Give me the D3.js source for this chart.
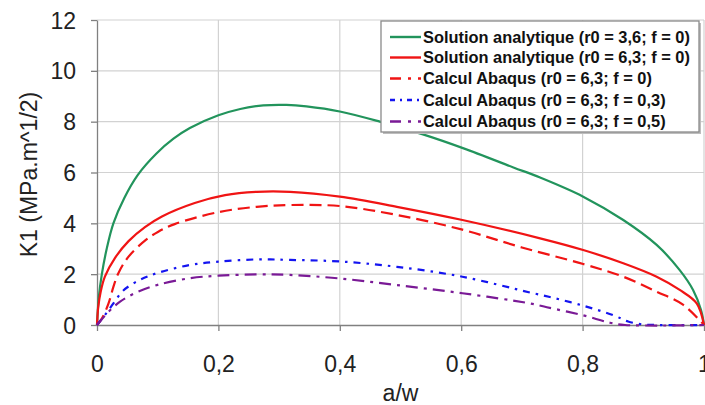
<!DOCTYPE html>
<html>
<head>
<meta charset="utf-8">
<script src="https://cdn.jsdelivr.net/npm/d3@7"></script>
<style>
  body { margin: 0; background: #fff; }
  svg { display: block; font-family: Arial, "Liberation Sans", sans-serif; }
</style>
</head>
<body>
<svg id="chart" width="705" height="405"></svg>
<script>
// ---- Data ----
const seriesNames = [
  "Solution analytique (r0 = 3,6; f = 0)",
  "Solution analytique (r0 = 6,3; f = 0)",
  "Calcul Abaqus (r0 = 6,3; f = 0)",
  "Calcul Abaqus (r0 = 6,3; f = 0,3)",
  "Calcul Abaqus (r0 = 6,3; f = 0,5)"
];
const greenX = [0, 0.003, 0.008, 0.016, 0.027, 0.045, 0.067, 0.098, 0.126, 0.153, 0.2, 0.236, 0.274, 0.312, 0.345, 0.4, 0.466, 0.537, 0.604, 0.686, 0.73, 0.801, 0.867, 0.922, 0.96, 0.982, 0.995, 1.0];
const greenY = [0, 1.1, 2.0, 3.0, 4.0, 5.0, 5.9, 6.75, 7.33, 7.75, 8.25, 8.5, 8.64, 8.66, 8.6, 8.4, 8.0, 7.5, 6.95, 6.2, 5.8, 5.05, 4.13, 3.15, 2.16, 1.38, 0.6, 0];
const redX = [0, 0.002, 0.006, 0.013, 0.03, 0.052, 0.079, 0.107, 0.161, 0.211, 0.263, 0.318, 0.4, 0.494, 0.602, 0.73, 0.801, 0.867, 0.922, 0.96, 0.988, 1.0];
const redY = [0, 0.7, 1.3, 1.9, 2.65, 3.3, 3.85, 4.27, 4.8, 5.11, 5.24, 5.24, 5.05, 4.65, 4.13, 3.41, 2.95, 2.43, 1.9, 1.38, 0.85, 0];
const abq0X = [0, 0.008, 0.019, 0.027, 0.035, 0.052, 0.08, 0.101, 0.128, 0.2, 0.263, 0.318, 0.4, 0.494, 0.602, 0.7, 0.801, 0.867, 0.922, 0.966, 1.0];
const abq0Y = [0, 0.25, 0.85, 1.5, 2.03, 2.69, 3.34, 3.67, 3.97, 4.44, 4.65, 4.72, 4.68, 4.33, 3.75, 3.05, 2.4, 1.9, 1.31, 0.79, 0];
const abq3X = [0, 0.013, 0.027, 0.043, 0.071, 0.1, 0.153, 0.2, 0.263, 0.318, 0.4, 0.494, 0.602, 0.713, 0.746, 0.801, 0.851, 0.875, 0.9, 0.92, 1.0];
const abq3Y = [0, 0.39, 0.85, 1.35, 1.78, 2.05, 2.36, 2.49, 2.58, 2.56, 2.5, 2.29, 1.9, 1.28, 1.1, 0.76, 0.38, 0.14, 0.02, 0, 0];
const abq5X = [0, 0.019, 0.038, 0.065, 0.1, 0.153, 0.2, 0.263, 0.318, 0.4, 0.494, 0.602, 0.713, 0.741, 0.801, 0.845, 0.87, 1.0];
const abq5Y = [0, 0.52, 0.92, 1.28, 1.58, 1.84, 1.94, 1.99, 1.97, 1.83, 1.57, 1.25, 0.85, 0.7, 0.38, 0.09, 0, 0];
const xTicks = [0, 0.2, 0.4, 0.6, 0.8, 1];
const xTickLabels = ["0", "0,2", "0,4", "0,6", "0,8", "1"];
const yTicks = [0, 2, 4, 6, 8, 10, 12];
const yTickLabels = ["0", "2", "4", "6", "8", "10", "12"];
const xTitle = "a/w";
const yTitle = "K1 (MPa.m^1/2)";

const series = [
  { name: seriesNames[0], xs: greenX, ys: greenY, color: "#22945c", dash: null },
  { name: seriesNames[1], xs: redX, ys: redY, color: "#f01414", dash: null },
  { name: seriesNames[2], xs: abq0X, ys: abq0Y, color: "#f01414", dash: "12,6" },
  { name: seriesNames[3], xs: abq3X, ys: abq3Y, color: "#1414f0", dash: "7,6,2.5,6" },
  { name: seriesNames[4], xs: abq5X, ys: abq5Y, color: "#7a1a96", dash: "12,6,3,6" }
];

// ---- Layout ----
const svg = d3.select("#chart");
const pLeft = 97, pRight = 704, pTop = 20, pBottom = 325;
const x = d3.scaleLinear().domain([0, 1]).range([pLeft, pRight]);
const y = d3.scaleLinear().domain([0, 12]).range([pBottom, pTop]);

// gridlines
svg.append("g").selectAll("line").data(yTicks.filter(d => d > 0)).join("line")
  .attr("x1", pLeft).attr("x2", pRight)
  .attr("y1", d => y(d)).attr("y2", d => y(d))
  .attr("stroke", "#d2d2d2").attr("stroke-width", 1.2);
svg.append("g").selectAll("line").data(xTicks.filter(d => d > 0)).join("line")
  .attr("x1", d => x(d)).attr("x2", d => x(d))
  .attr("y1", pTop).attr("y2", pBottom)
  .attr("stroke", "#d2d2d2").attr("stroke-width", 1.2);

// axes
const xAxis = d3.axisBottom(x).tickValues(xTicks).tickFormat((d, i) => xTickLabels[i]).tickSize(6).tickSizeOuter(0);
const yAxis = d3.axisLeft(y).tickValues(yTicks).tickFormat((d, i) => yTickLabels[i]).tickSize(6).tickSizeOuter(0);
const gx = svg.append("g").attr("transform", `translate(0,${pBottom})`).call(xAxis);
const gy = svg.append("g").attr("transform", `translate(${pLeft},0)`).call(yAxis);
[gx, gy].forEach(g => {
  g.select(".domain").attr("stroke", "#808080").attr("stroke-width", 1.3);
  g.selectAll(".tick line").attr("stroke", "#808080").attr("stroke-width", 1.3);
  g.selectAll(".tick text").attr("fill", "#222").attr("font-size", 23).attr("font-family", "Arial, 'Liberation Sans', sans-serif");
});
gx.selectAll(".tick text").attr("y", 0).attr("dy", 0).attr("transform", "translate(0,47)");
gy.selectAll(".tick text").attr("x", -21).attr("dy", "0.35em");

// titles
svg.append("text").attr("x", (pLeft + pRight) / 2).attr("y", 401)
  .attr("text-anchor", "middle").attr("font-size", 23).attr("fill", "#222").text(xTitle);
svg.append("text").attr("transform", `translate(37,${(pTop + pBottom) / 2 + 2}) rotate(-90)`)
  .attr("text-anchor", "middle").attr("font-size", 23).attr("fill", "#222").text(yTitle);

// lines
const lineGen = d3.line().x(d => x(d[0])).y(d => y(d[1])).curve(d3.curveCatmullRom.alpha(0.5));
svg.append("clipPath").attr("id", "plotclip").append("rect")
  .attr("x", pLeft - 2).attr("y", pTop - 2).attr("width", pRight - pLeft + 6).attr("height", pBottom - pTop + 4);
const lines = svg.append("g").attr("clip-path", "url(#plotclip)");
series.forEach(s => {
  const pts = s.xs.map((v, i) => [v, s.ys[i]]);
  lines.append("path").attr("d", lineGen(pts))
    .attr("fill", "none").attr("stroke", s.color).attr("stroke-width", 2.2)
    .attr("stroke-dasharray", s.dash);
});

// legend
const lg = svg.append("g");
const lgX = 381, lgY = 21, lgW = 318, lgH = 111;
lg.append("rect").attr("x", lgX + 2).attr("y", lgY + 2).attr("width", lgW).attr("height", lgH)
  .attr("fill", "#bdbdbd");
lg.append("rect").attr("x", lgX).attr("y", lgY).attr("width", lgW).attr("height", lgH)
  .attr("fill", "#fff").attr("stroke", "#8a8a8a").attr("stroke-width", 1.3);
const rowY = [37, 57.5, 78.5, 100, 121.5];
series.forEach((s, i) => {
  lg.append("line").attr("x1", 390).attr("x2", 421).attr("y1", rowY[i]).attr("y2", rowY[i])
    .attr("stroke", s.color).attr("stroke-width", 2.4).attr("stroke-dasharray", s.dash ? (i === 3 ? "5,5,2,5" : "11,7,3,7") : null);
  lg.append("text").attr("x", 423).attr("y", rowY[i]).attr("dy", "0.36em")
    .attr("font-size", 16.4).attr("font-weight", "bold").attr("fill", "#111").text(s.name);
});
</script>
</body>
</html>
